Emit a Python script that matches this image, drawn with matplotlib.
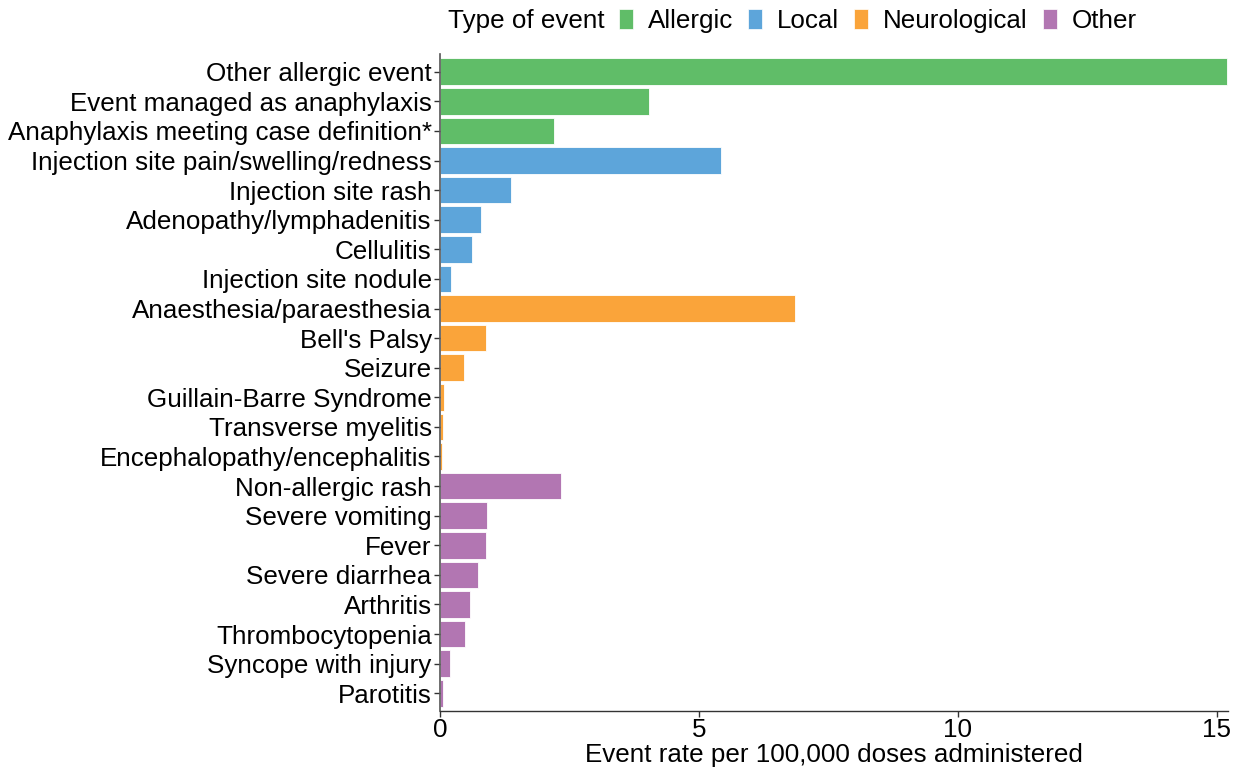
import matplotlib
matplotlib.use("Agg")
import matplotlib.pyplot as plt
from matplotlib.patches import Patch

plt.rcParams['font.family'] = ['Liberation Sans', 'DejaVu Sans']

categories = [
    "Other allergic event", "Event managed as anaphylaxis", "Anaphylaxis meeting case definition*",
    "Injection site pain/swelling/redness", "Injection site rash", "Adenopathy/lymphadenitis",
    "Cellulitis", "Injection site nodule",
    "Anaesthesia/paraesthesia", "Bell's Palsy", "Seizure", "Guillain-Barre Syndrome",
    "Transverse myelitis", "Encephalopathy/encephalitis",
    "Non-allergic rash", "Severe vomiting", "Fever", "Severe diarrhea", "Arthritis",
    "Thrombocytopenia", "Syncope with injury", "Parotitis",
]
rates = [15.2, 4.03, 2.21,
         5.43, 1.37, 0.79, 0.62, 0.21,
         6.86, 0.89, 0.47, 0.08, 0.06, 0.04,
         2.33, 0.91, 0.89, 0.73, 0.58, 0.49, 0.19, 0.05]
types = ["Allergic"] * 3 + ["Local"] * 5 + ["Neurological"] * 6 + ["Other"] * 8
type_names = ["Allergic", "Local", "Neurological", "Other"]
type_colors = {"Allergic": "#60BD68", "Local": "#5DA5DA", "Neurological": "#FAA43A", "Other": "#B276B2"}

FS = 18.7

fig = plt.figure(figsize=(12.37, 7.71), dpi=100)
ax = fig.add_axes([440 / 1237, 1 - 711 / 771, (1228 - 440) / 1237, (711 - 54) / 771])

n = len(categories)
ypos = list(range(n))
ax.barh(ypos, rates, height=0.9, color=[type_colors[t] for t in types],
        edgecolor="white", linewidth=0.6)
ax.set_ylim(n - 0.4, -0.6)
ax.set_xlim(0, 15.22)
ax.set_yticks(ypos)
ax.set_yticklabels(categories, fontsize=FS, color="black")
ax.set_xticks([0, 5, 10, 15])
ax.set_xticklabels(["0", "5", "10", "15"], fontsize=FS, color="black")
ax.set_xlabel("Event rate per 100,000 doses administered", fontsize=FS, labelpad=1)
ax.tick_params(axis="y", length=4, width=1, color="#333333", pad=2)
ax.tick_params(axis="x", length=4, width=1, color="#333333", pad=1)
for s in ["top", "right"]:
    ax.spines[s].set_visible(False)
ax.spines["left"].set_color("#555555")
ax.spines["bottom"].set_color("#333333")
ax.spines["left"].set_linewidth(1.2)
ax.spines["bottom"].set_linewidth(1.0)

handles = [Patch(facecolor=type_colors[t], edgecolor="white", linewidth=0.5) for t in type_names]
fig.text(448 / 1237, 1 - 21 / 771, "Type of event", fontsize=FS, va="center", ha="left")
fig.legend(handles, type_names, loc="center left", bbox_to_anchor=(619 / 1237, 1 - 21 / 771),
           ncol=4, frameon=False, fontsize=FS, handlelength=0.54, handleheight=0.77,
           handletextpad=0.57, columnspacing=0.58, borderaxespad=0, borderpad=0)

fig.savefig("out.png", dpi=100)
